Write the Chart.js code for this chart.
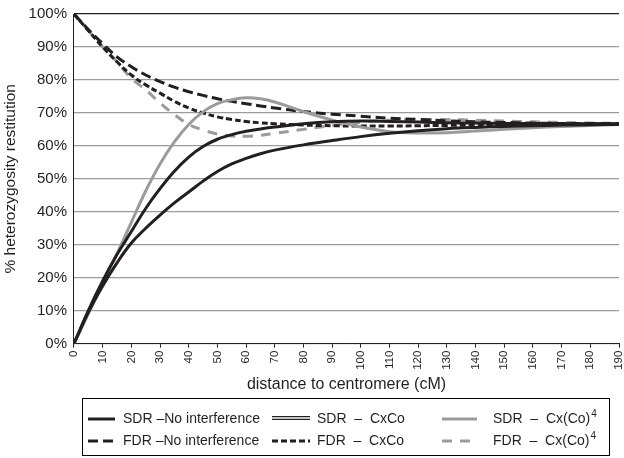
<!DOCTYPE html>
<html>
<head>
<meta charset="utf-8">
<script src="https://cdn.jsdelivr.net/npm/chart.js@4.4.1/dist/chart.umd.min.js"></script>
<style>
  html, body { margin: 0; padding: 0; background: #fff; }
  #wrap { width: 624px; height: 458px; }
</style>
</head>
<body>
<div id="wrap"><canvas id="chart" width="624" height="458"></canvas></div>
<script>
// distance to centromere (cM)
const dist = [0, 5, 10, 15, 20, 25, 30, 35, 40, 45, 50, 55, 60, 65, 70, 80, 90, 100, 110, 120, 130, 140, 150, 160, 170, 180, 190];

// % heterozygosity restitution
const sdrNoInterf = [0, 9.5, 17.5, 24.5, 30.5, 35, 39, 42.7, 46, 49.3, 52.2, 54.5, 56.2, 57.6, 58.7, 60.3, 61.6, 62.8, 63.8, 64.6, 65.2, 65.6, 65.9, 66.1, 66.3, 66.4, 66.5];
const sdrCxCo     = [0, 10, 19, 27, 34, 41, 47, 52.3, 56.6, 59.8, 62, 63.4, 64.4, 65.1, 65.7, 66.7, 67.3, 67.5, 67.4, 67.2, 67.0, 66.9, 66.8, 66.8, 66.7, 66.7, 66.7];
const sdrCx4      = [0, 9, 18.2, 27.3, 36.8, 46.3, 54.5, 61.2, 66.5, 70.3, 72.8, 74, 74.6, 74.3, 73.3, 70.4, 67.8, 65.7, 64.3, 63.9, 64.0, 64.5, 65.0, 65.5, 65.9, 66.2, 66.5];
const fdrNoInterf = [100, 95.3, 91, 87, 84, 81.5, 79.5, 77.8, 76.4, 75.3, 74.3, 73.5, 72.8, 72.1, 71.5, 70.4, 69.6, 69.0, 68.4, 68.0, 67.6, 67.3, 67.1, 66.9, 66.8, 66.8, 66.7];
const fdrCxCo     = [100, 95, 90, 85.5, 81.5, 78.5, 76, 73.5, 71.5, 70, 68.8, 68, 67.4, 67, 66.7, 66.3, 66.1, 66, 66, 66.1, 66.2, 66.3, 66.4, 66.5, 66.5, 66.6, 66.6];
const fdrCx4      = [100, 95, 90, 85.5, 80.5, 77, 73, 69.5, 66.5, 64.8, 63.6, 63, 62.9, 63.2, 63.8, 65, 66.2, 67.2, 67.8, 68.0, 68.0, 67.8, 67.5, 67.3, 67.1, 66.9, 66.8];

const xTicks = [0, 10, 20, 30, 40, 50, 60, 70, 80, 90, 100, 110, 120, 130, 140, 150, 160, 170, 180, 190];
const yTicks = [0, 10, 20, 30, 40, 50, 60, 70, 80, 90, 100];

const BLACK = '#231f20';
const GREY = '#9b9b9b';
const FONT = 'Liberation Sans, Arial, Helvetica, sans-serif';

function pts(vals) {
  return dist.map((d, i) => ({ x: d, y: vals[i] }));
}

function line(label, vals, color, dash) {
  return {
    label: label,
    data: pts(vals),
    borderColor: color,
    backgroundColor: color,
    borderWidth: 3,
    borderDash: dash,
    pointRadius: 0,
    tension: 0.4,
    fill: false
  };
}

const datasets = [
  line('SDR \u2013No interference', sdrNoInterf, BLACK, []),
  line('SDR \u2013 CxCo', sdrCxCo, BLACK, []),
  line('SDR \u2013 Cx(Co)', sdrCx4, GREY, []),
  line('FDR \u2013No interference', fdrNoInterf, BLACK, [10, 5]),
  line('FDR \u2013 CxCo', fdrCxCo, BLACK, [6, 3]),
  line('FDR \u2013 Cx(Co)', fdrCx4, GREY, [10, 8])
];

// legend in a box, 3 columns x 2 rows, like the original figure
const boxLegend = {
  id: 'boxLegend',
  afterDraw(chart) {
    const ctx = chart.ctx;
    ctx.save();
    ctx.strokeStyle = '#000';
    ctx.lineWidth = 1;
    ctx.strokeRect(82.5, 398.5, 527, 57);

    const cols = [{ lx: 88, lw: 27, tx: 123 }, { lx: 272, lw: 38, tx: 317 }, { lx: 442, lw: 35, tx: 493 }];
    const rows = [419, 441];
    const sup = [false, false, true, false, false, true];
    ctx.textBaseline = 'middle';
    datasets.forEach((ds, i) => {
      const c = cols[i % 3];
      const y = rows[Math.floor(i / 3)];
      ctx.lineCap = 'butt';
      if (i === 1) {
        // double line sample
        ctx.setLineDash([]);
        ctx.strokeStyle = BLACK;
        ctx.lineWidth = 4;
        ctx.beginPath(); ctx.moveTo(c.lx, y - 1); ctx.lineTo(c.lx + c.lw, y - 1); ctx.stroke();
        ctx.strokeStyle = '#fff';
        ctx.lineWidth = 1.5;
        ctx.beginPath(); ctx.moveTo(c.lx, y - 1); ctx.lineTo(c.lx + c.lw, y - 1); ctx.stroke();
      } else {
        ctx.setLineDash(ds.borderDash);
        ctx.strokeStyle = ds.borderColor;
        ctx.lineWidth = 3;
        ctx.beginPath(); ctx.moveTo(c.lx, y); ctx.lineTo(c.lx + c.lw, y); ctx.stroke();
      }
      ctx.setLineDash([]);
      ctx.fillStyle = BLACK;
      ctx.font = '14px ' + FONT;
      const txt = ds.label.replace(' \u2013 ', '  \u2013  ');
      ctx.fillText(txt, c.tx, y);
      if (sup[i]) {
        const w = ctx.measureText(txt).width;
        ctx.font = '10px ' + FONT;
        ctx.fillText('4', c.tx + w + 1, y - 5);
      }
    });
    ctx.restore();
  }
};

const ctx = document.getElementById('chart').getContext('2d');
new Chart(ctx, {
  type: 'line',
  data: { datasets: datasets },
  options: {
    responsive: false,
    animation: false,
    layout: { padding: { left: 1, right: 5, top: 14, bottom: 64 } },
    plugins: {
      legend: { display: false },
      tooltip: { enabled: false }
    },
    scales: {
      x: {
        type: 'linear',
        min: 0,
        max: 190,
        afterBuildTicks: (scale) => { scale.ticks = xTicks.map(v => ({ value: v })); },
        afterFit: (scale) => { scale.paddingLeft = 0; scale.paddingRight = 0; },
        ticks: {
          color: BLACK,
          font: { family: FONT, size: 11.5 },
          minRotation: 90,
          maxRotation: 90,
          padding: 3
        },
        grid: { drawOnChartArea: false, drawTicks: true, tickLength: 4, color: BLACK },
        border: { color: BLACK, width: 1 },
        title: {
          display: true,
          text: 'distance to centromere (cM)',
          color: BLACK,
          font: { family: FONT, size: 16 },
          padding: { top: 2, bottom: 0 }
        }
      },
      y: {
        min: 0,
        max: 100,
        afterBuildTicks: (scale) => { scale.ticks = yTicks.map(v => ({ value: v })); },
        afterFit: (scale) => { scale.paddingTop = 0; scale.paddingBottom = 0; },
        ticks: {
          color: BLACK,
          font: { family: FONT, size: 15 },
          padding: 7,
          callback: (v) => v + '%'
        },
        grid: {
          drawTicks: false,
          color: (c) => (c.tick && c.tick.value === 100 ? BLACK : GREY),
          lineWidth: 1.2
        },
        border: { color: BLACK, width: 1 },
        title: {
          display: true,
          text: '% heterozygosity restitution',
          color: BLACK,
          font: { family: FONT, size: 15.5 },
          padding: { top: 0, bottom: 2 }
        }
      }
    }
  },
  plugins: [boxLegend]
});
</script>
</body>
</html>
